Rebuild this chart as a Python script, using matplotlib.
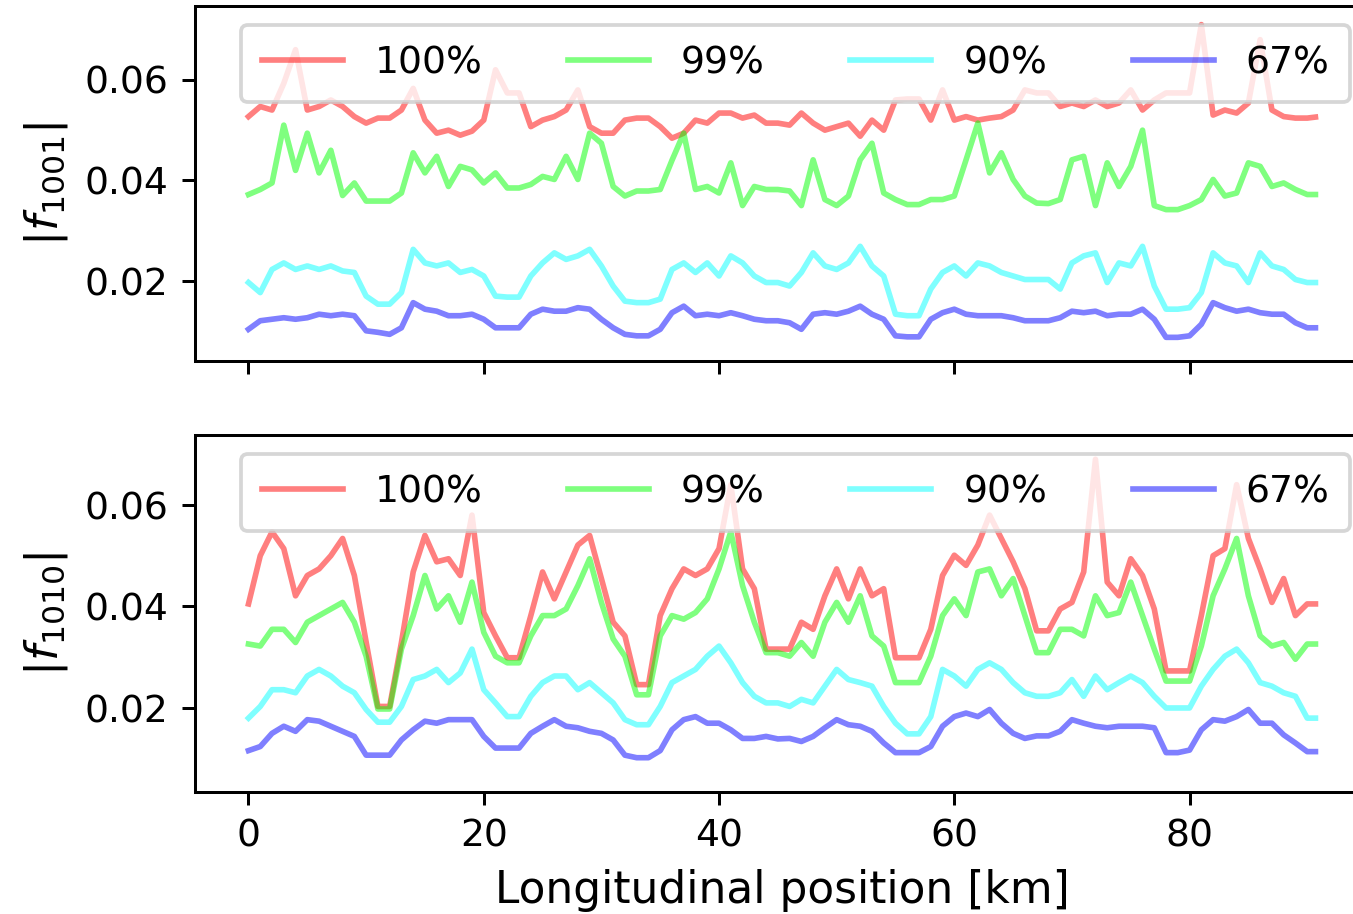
"""Plot resonance driving terms along the ring for several beam fractions."""

import matplotlib

matplotlib.use("Agg")
import matplotlib.pyplot as plt
import numpy as np

# --- Longitudinal position [km] (shared by all series) ---
position_km = list(range(0, 91)) + [90.7]

labels = ["100%", "99%", "90%", "67%"]
colors = ["#ff0000", "#00ff00", "#00ffff", "#0000ff"]

# --- |f1001| values, in units of 1e-3 ---
f1001_100 = [
    52.7, 54.7, 54.0, 59.3, 66.0, 54.0, 54.7, 56.0, 54.7, 52.7,
    51.4, 52.4, 52.4, 54.0, 58.3, 52.0, 49.4, 50.0, 49.0, 49.8,
    52.0, 62.0, 57.4, 57.4, 50.7, 52.0, 52.7, 54.0, 58.0, 50.7,
    49.4, 49.4, 52.0, 52.4, 52.4, 50.7, 48.4, 49.4, 52.0, 51.4,
    53.4, 53.4, 52.4, 53.0, 51.4, 51.4, 51.0, 53.4, 51.4, 50.0,
    50.7, 51.4, 48.8, 52.0, 50.0, 56.0, 56.2, 56.2, 52.0, 58.0,
    52.0, 52.7, 52.0, 52.4, 52.7, 54.0, 58.0, 57.4, 57.4, 54.7,
    55.4, 54.7, 56.0, 54.7, 55.4, 58.0, 54.0, 56.0, 57.4, 57.4,
    57.4, 71.0, 53.0, 54.0, 53.4, 55.4, 68.0, 54.0, 52.7, 52.4,
    52.4, 52.6,
]
f1001_99 = [
    37.2, 38.2, 39.5, 51.0, 42.0, 49.4, 41.5, 46.0, 37.0, 39.5,
    35.9, 35.9, 35.9, 37.5, 45.5, 41.5, 44.8, 38.8, 42.8, 42.1,
    39.5, 41.5, 38.5, 38.5, 39.2, 40.8, 40.2, 44.8, 40.2, 49.4,
    47.4, 38.8, 36.9, 37.9, 37.9, 38.2, 44.0, 49.4, 38.2, 38.8,
    37.5, 43.5, 35.0, 38.8, 38.2, 38.2, 37.9, 35.0, 44.1, 36.2,
    35.0, 36.9, 44.1, 47.4, 37.5, 36.2, 35.2, 35.2, 36.2, 36.2,
    36.9, 44.1, 51.4, 41.5, 45.5, 40.2, 36.9, 35.5, 35.4, 36.2,
    44.1, 44.8, 35.0, 43.5, 38.8, 42.8, 50.0, 35.0, 34.2, 34.2,
    35.0, 36.2, 40.2, 36.9, 37.5, 43.5, 42.8, 38.8, 39.5, 38.2,
    37.2, 37.2,
]
f1001_90 = [
    19.7, 17.7, 22.3, 23.6, 22.3, 23.0, 22.3, 23.0, 22.0, 21.7,
    17.0, 15.4, 15.4, 17.7, 26.3, 23.6, 23.0, 23.6, 21.7, 22.3,
    21.0, 17.0, 16.8, 16.8, 21.0, 23.6, 25.6, 24.3, 25.0, 26.3,
    23.0, 19.0, 16.0, 15.7, 15.7, 16.4, 22.3, 23.6, 21.7, 23.6,
    21.0, 25.0, 23.6, 21.0, 19.7, 19.7, 19.0, 21.7, 25.6, 23.0,
    22.3, 23.6, 26.9, 23.0, 21.0, 13.4, 13.1, 13.1, 18.4, 21.7,
    23.0, 21.0, 23.6, 23.0, 21.7, 21.0, 20.3, 20.3, 20.3, 18.4,
    23.6, 25.0, 25.6, 19.7, 23.6, 23.0, 26.9, 19.0, 14.4, 14.4,
    14.7, 17.7, 25.6, 23.6, 23.0, 19.7, 25.6, 23.0, 22.3, 20.3,
    19.7, 19.7,
]
f1001_67 = [
    10.4, 12.1, 12.4, 12.7, 12.4, 12.7, 13.4, 13.1, 13.4, 13.1,
    10.1, 9.8, 9.4, 10.7, 15.7, 14.4, 14.0, 13.1, 13.1, 13.4,
    12.4, 10.7, 10.7, 10.7, 13.4, 14.4, 14.0, 14.0, 14.7, 14.4,
    12.4, 10.7, 9.4, 9.1, 9.1, 10.4, 13.7, 15.0, 13.1, 13.4,
    13.1, 13.7, 13.1, 12.4, 12.1, 12.1, 11.7, 10.4, 13.4, 13.7,
    13.4, 14.0, 15.0, 13.4, 12.4, 9.1, 8.9, 8.9, 12.4, 13.7,
    14.4, 13.4, 13.1, 13.1, 13.1, 12.7, 12.1, 12.1, 12.1, 12.7,
    14.0, 13.7, 14.0, 13.1, 13.4, 13.4, 14.4, 12.4, 8.8, 8.8,
    9.1, 11.4, 15.7, 14.7, 14.0, 14.4, 13.7, 13.4, 13.4, 11.7,
    10.7, 10.7,
]

# --- |f1010| values, in units of 1e-3 ---
f1010_100 = [
    40.5, 50.0, 54.7, 51.4, 42.1, 46.1, 47.4, 50.0, 53.4, 46.1,
    33.0, 20.3, 20.3, 32.9, 46.8, 54.0, 48.8, 49.4, 46.1, 58.0,
    38.8, 34.2, 29.9, 29.9, 38.2, 46.8, 41.5, 46.8, 52.1, 54.0,
    45.5, 36.9, 34.2, 24.6, 24.6, 38.2, 43.5, 47.4, 46.1, 47.4,
    51.4, 64.0, 47.4, 43.5, 31.6, 31.6, 31.6, 36.9, 35.5, 42.1,
    47.4, 41.5, 47.4, 42.1, 43.5, 29.9, 29.9, 29.9, 35.5, 46.1,
    50.1, 48.1, 52.1, 58.0, 53.4, 48.8, 43.5, 35.2, 35.2, 39.5,
    40.8, 46.8, 69.0, 44.8, 42.1, 49.4, 46.1, 39.5, 27.3, 27.3,
    27.3, 38.2, 50.0, 51.4, 64.0, 53.4, 47.4, 40.8, 45.5, 38.2,
    40.5, 40.5,
]
f1010_99 = [
    32.6, 32.2, 35.5, 35.5, 32.9, 36.9, 38.2, 39.5, 40.8, 36.9,
    30.2, 19.8, 19.8, 31.6, 38.2, 46.1, 39.5, 42.1, 36.9, 44.8,
    34.9, 30.2, 28.9, 28.9, 34.2, 38.2, 38.2, 39.5, 44.1, 49.4,
    40.8, 33.6, 30.2, 22.6, 22.6, 34.2, 38.2, 37.5, 38.8, 41.5,
    47.4, 54.7, 44.1, 36.9, 30.9, 30.9, 30.2, 32.9, 30.2, 36.9,
    40.8, 36.9, 42.1, 34.2, 32.2, 25.0, 25.0, 25.0, 30.2, 38.2,
    41.5, 38.2, 46.8, 47.4, 42.1, 45.5, 38.2, 30.9, 30.9, 35.5,
    35.5, 34.2, 42.1, 38.2, 38.8, 44.8, 38.2, 31.6, 25.3, 25.3,
    25.3, 32.2, 42.1, 47.4, 53.4, 42.1, 34.2, 32.2, 32.9, 29.6,
    32.6, 32.6,
]
f1010_90 = [
    18.0, 20.3, 23.6, 23.6, 23.0, 26.3, 27.6, 26.3, 24.3, 23.0,
    19.7, 17.2, 17.2, 20.3, 25.6, 26.3, 27.6, 25.0, 26.9, 31.6,
    23.6, 21.0, 18.3, 18.3, 22.3, 25.0, 26.3, 26.3, 23.6, 25.0,
    23.0, 21.0, 17.7, 16.7, 16.7, 20.3, 25.0, 26.3, 27.6, 30.2,
    32.2, 28.9, 25.0, 22.3, 21.0, 21.0, 20.3, 21.7, 21.0, 24.3,
    27.6, 25.6, 25.0, 24.3, 20.3, 17.0, 14.9, 14.9, 18.3, 27.6,
    26.3, 24.3, 27.6, 28.9, 27.6, 25.0, 23.0, 22.3, 22.3, 23.0,
    25.6, 22.3, 26.3, 23.6, 25.0, 26.3, 25.0, 22.3, 20.0, 20.0,
    20.0, 24.3, 27.6, 30.2, 31.6, 28.9, 25.0, 24.3, 23.0, 22.3,
    18.0, 18.0,
]
f1010_67 = [
    11.6, 12.4, 15.0, 16.4, 15.4, 17.7, 17.4, 16.4, 15.4, 14.4,
    10.7, 10.7, 10.7, 13.7, 15.7, 17.4, 17.0, 17.7, 17.7, 17.7,
    14.4, 12.1, 12.1, 12.1, 15.0, 16.4, 17.7, 16.4, 16.1, 15.4,
    15.0, 13.7, 10.7, 10.2, 10.2, 11.6, 15.7, 17.7, 18.3, 17.0,
    17.0, 15.7, 14.0, 14.0, 14.4, 13.9, 14.0, 13.4, 14.4, 16.1,
    17.7, 16.7, 16.4, 15.4, 13.1, 11.2, 11.2, 11.2, 12.4, 16.4,
    18.3, 19.0, 18.3, 19.7, 17.0, 15.0, 14.0, 14.5, 14.5, 15.4,
    17.7, 17.0, 16.4, 16.1, 16.4, 16.4, 16.4, 16.1, 11.2, 11.2,
    11.7, 15.7, 17.7, 17.4, 18.3, 19.7, 17.0, 17.0, 14.7, 13.1,
    11.4, 11.4,
]


def draw_panel(ax, series, ylabel, ylim):
    x = np.array(position_km)
    for values, color, label in zip(series, colors, labels):
        ax.plot(x, np.array(values) * 1e-3, color=color, alpha=0.5,
                linewidth=1.5, label=label)
    ax.set_ylabel(ylabel, fontsize=12)
    ax.set_ylim(*ylim)
    ax.set_yticks([0.02, 0.04, 0.06])
    ax.set_xlim(-4.55, 95.25)
    ax.set_xticks([0, 20, 40, 60, 80])
    ax.legend(loc="upper right", ncol=4, fontsize=10,
              handlelength=2.16, handletextpad=0.85,
              columnspacing=2.27, borderpad=0.55)


fig = plt.figure(figsize=(5.0, 3.378), dpi=270.6)
ax_top = fig.add_axes([0.1441, 0.605, 0.8677, 0.3884])
ax_bot = fig.add_axes([0.1441, 0.1335, 0.8677, 0.3906], sharex=ax_top)

draw_panel(ax_top, [f1001_100, f1001_99, f1001_90, f1001_67],
           r"$|f_{1001}|$", (0.0041, 0.0747))
draw_panel(ax_bot, [f1010_100, f1010_99, f1010_90, f1010_67],
           r"$|f_{1010}|$", (0.00345, 0.0738))

ax_top.tick_params(labelbottom=False)
ax_bot.set_xlabel("Longitudinal position [km]", fontsize=11.7)

fig.savefig("out.png", dpi=270.6)
